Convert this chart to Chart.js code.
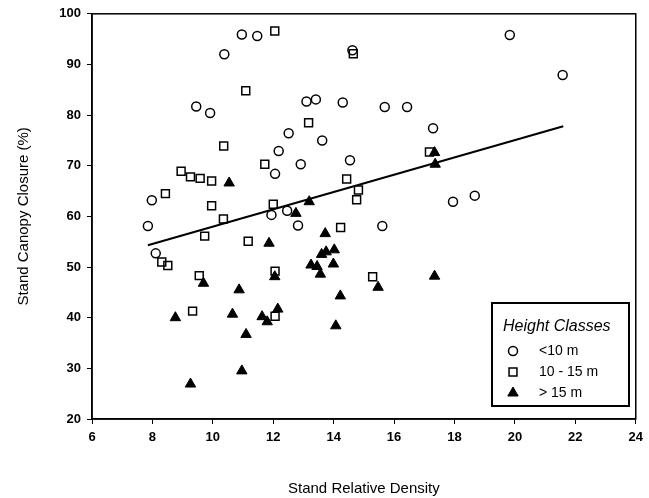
<!DOCTYPE html>
<html>
<head>
<meta charset="utf-8">
<script src="https://cdn.jsdelivr.net/npm/chart.js@4.4.1/dist/chart.umd.min.js"></script>
<style>
  html, body { margin: 0; padding: 0; background: #fff; }
  #wrap { width: 649px; height: 498px; position: relative; }
</style>
</head>
<body>
<div id="wrap"><canvas id="chart" width="649" height="498"></canvas></div>
<script>
const xTicks = [6, 8, 10, 12, 14, 16, 18, 20, 22, 24];
const yTicks = [20, 30, 40, 50, 60, 70, 80, 90, 100];

const labels = ["<10 m", "10 - 15 m", "> 15 m"];

const smallX = [7.85, 7.98, 8.11, 9.45, 9.91, 10.38, 10.96, 11.47, 11.94, 12.06, 12.18, 12.46, 12.51, 12.82, 12.91, 13.1, 13.41, 13.62, 14.3, 14.54, 14.62, 15.61, 15.69, 16.43, 17.29, 17.95, 18.67, 19.83, 21.58];
const smallY = [58.1, 63.2, 52.7, 81.7, 80.4, 92.0, 95.9, 95.6, 60.3, 68.4, 72.9, 61.1, 76.4, 58.2, 70.3, 82.7, 83.1, 75.0, 82.5, 71.1, 92.8, 58.1, 81.6, 81.6, 77.4, 62.9, 64.1, 95.8, 87.9];

const midX = [8.31, 8.43, 8.51, 8.95, 9.26, 9.33, 9.55, 9.58, 9.73, 9.96, 9.96, 10.35, 10.36, 11.09, 11.17, 11.72, 12.0, 12.05, 12.06, 12.06, 13.17, 14.23, 14.43, 14.65, 14.76, 14.82, 15.29, 17.17];
const midY = [51.0, 64.5, 50.3, 68.9, 67.8, 41.3, 48.3, 67.5, 56.1, 67.0, 62.1, 59.5, 73.9, 84.8, 55.1, 70.3, 62.4, 96.6, 49.2, 40.3, 78.5, 57.8, 67.4, 92.1, 63.3, 65.2, 48.1, 72.7];

const tallX = [8.76, 9.26, 9.69, 10.54, 10.65, 10.87, 10.96, 11.1, 11.63, 11.8, 11.86, 12.05, 12.15, 12.75, 13.19, 13.25, 13.45, 13.56, 13.6, 13.72, 13.75, 13.99, 14.02, 14.07, 14.22, 15.47, 17.34, 17.34, 17.36];
const tallY = [40.0, 26.9, 46.8, 66.6, 40.7, 45.5, 29.5, 36.7, 40.2, 39.2, 54.7, 48.1, 41.7, 60.6, 62.9, 50.4, 50.1, 48.6, 52.5, 56.6, 53.0, 50.6, 53.4, 38.4, 44.3, 46.0, 48.2, 72.6, 70.3];

const trendX = [7.85, 21.6];
const trendY = [54.3, 77.8];

function pts(xs, ys) {
  return xs.map((x, i) => ({ x: x, y: ys[i] }));
}

const legendBox = {
  id: "legendBox",
  afterDraw(chart) {
    const ctx = chart.ctx;
    const area = chart.chartArea;
    ctx.save();
    // frame round the plot area
    ctx.strokeStyle = "#000";
    ctx.lineWidth = 1.5;
    ctx.strokeRect(area.left, area.top, area.right - area.left, area.bottom - area.top);

    const bx = 492, by = 303, bw = 137, bh = 103;
    ctx.fillStyle = "#fff";
    ctx.fillRect(bx, by, bw, bh);
    ctx.lineWidth = 2;
    ctx.strokeRect(bx, by, bw, bh);

    ctx.textBaseline = "middle";
    ctx.textAlign = "left";
    ctx.fillStyle = "#000";
    ctx.font = "italic 16px 'Liberation Sans', Arial, sans-serif";
    ctx.fillText("Height Classes", 503, 327);

    const rows = [351, 372, 393];
    chart.data.datasets.slice(0, 3).forEach((ds, i) => {
      ctx.strokeStyle = "#000";
      ctx.fillStyle = ds.backgroundColor;
      ctx.lineWidth = ds.borderWidth;
      Chart.helpers.drawPoint(ctx, { pointStyle: ds.pointStyle, radius: ds.pointRadius, borderWidth: ds.borderWidth }, 513, rows[i]);
      ctx.fillStyle = "#000";
      ctx.font = "14px 'Liberation Sans', Arial, sans-serif";
      ctx.fillText(labels[i], 539, rows[i]);
    });
    ctx.restore();
  }
};

new Chart(document.getElementById("chart"), {
  type: "scatter",
  data: {
    datasets: [
      {
        label: labels[0],
        data: pts(smallX, smallY),
        pointStyle: "circle",
        pointRadius: 4.5,
        borderWidth: 1.5,
        borderColor: "#000",
        backgroundColor: "rgba(0,0,0,0)"
      },
      {
        label: labels[1],
        data: pts(midX, midY),
        pointStyle: "rect",
        pointRadius: 5.6,
        borderWidth: 1.5,
        borderColor: "#000",
        backgroundColor: "rgba(0,0,0,0)"
      },
      {
        label: labels[2],
        data: pts(tallX, tallY),
        pointStyle: "triangle",
        pointRadius: 6,
        borderWidth: 1,
        borderColor: "#000",
        backgroundColor: "#000"
      },
      {
        type: "line",
        label: "trend",
        data: pts(trendX, trendY),
        borderColor: "#000",
        borderWidth: 2,
        pointRadius: 0,
        fill: false
      }
    ]
  },
  options: {
    responsive: false,
    animation: false,
    layout: { padding: { top: 13, right: 10, left: 0, bottom: 0 } },
    plugins: {
      legend: { display: false },
      tooltip: { enabled: false }
    },
    scales: {
      x: {
        type: "linear",
        min: 6,
        max: 24,
        afterFit(scale) { scale.height = 79; },
        afterBuildTicks(scale) { scale.ticks = xTicks.map(v => ({ value: v })); },
        border: { display: true, color: "#000", width: 1.5 },
        grid: { display: true, drawOnChartArea: false, drawTicks: true, tickLength: 5, color: "#000", lineWidth: 1 },
        ticks: {
          color: "#000",
          padding: 6,
          maxRotation: 0,
          font: { family: "'Liberation Sans', Arial, sans-serif", size: 13, weight: "bold" }
        },
        title: {
          display: true,
          text: "Stand Relative Density",
          color: "#000",
          padding: { top: 0, bottom: 0 },
          font: { family: "'Liberation Sans', Arial, sans-serif", size: 15 }
        }
      },
      y: {
        type: "linear",
        min: 20,
        max: 100,
        afterFit(scale) { scale.width = 92; },
        afterBuildTicks(scale) { scale.ticks = yTicks.map(v => ({ value: v })); },
        border: { display: true, color: "#000", width: 1.5 },
        grid: { display: true, drawOnChartArea: false, drawTicks: true, tickLength: 5, color: "#000", lineWidth: 1 },
        ticks: {
          color: "#000",
          padding: 6,
          font: { family: "'Liberation Sans', Arial, sans-serif", size: 13, weight: "bold" }
        },
        title: {
          display: true,
          text: "Stand Canopy Closure (%)",
          color: "#000",
          padding: { top: 15, bottom: 0 },
          font: { family: "'Liberation Sans', Arial, sans-serif", size: 15 }
        }
      }
    }
  },
  plugins: [legendBox]
});
</script>
</body>
</html>
